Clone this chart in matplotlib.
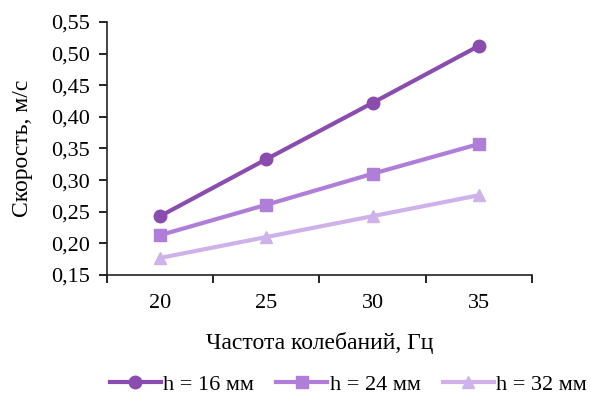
import numpy as np
import matplotlib.pyplot as plt
from matplotlib.ticker import FuncFormatter

plt.rcParams['font.family'] = ['Liberation Serif', 'DejaVu Serif']

freq = [20, 25, 30, 35]
v_h16 = [0.243, 0.333, 0.422, 0.512]
v_h24 = [0.213, 0.261, 0.310, 0.357]
v_h32 = [0.177, 0.210, 0.243, 0.276]
labels = ['h = 16 мм', 'h = 24 мм', 'h = 32 мм']
colors = ['#8A4CAE', '#AE7ED8', '#CFB2EA']
markers = ['o', 's', '^']

fig = plt.figure(figsize=(5.91, 3.98), dpi=100)
ax = fig.add_axes([0.181, 0.309, 0.719, 0.636])

x = np.arange(len(freq))
for vals, lab, c, m in zip([v_h16, v_h24, v_h32], labels, colors, markers):
    ax.plot(x, vals, color=c, marker=m, markersize=9, linewidth=3, label=lab)

ax.set_xlim(-0.5, len(freq) - 0.5)
ax.set_ylim(0.15, 0.55)
ax.set_yticks(np.arange(0.15, 0.551, 0.05))
ax.yaxis.set_major_formatter(FuncFormatter(lambda v, p: f'{v:.2f}'.replace('.', ',')))

# category boundaries carry the tick marks, labels sit at the centres
ax.set_xticks(np.arange(-0.5, len(freq), 1.0))
ax.set_xticklabels([])
ax.set_xticks(x, minor=True)
ax.set_xticklabels([str(f) for f in freq], minor=True)
ax.tick_params(axis='x', which='minor', length=0, pad=14, labelsize=16)
ax.tick_params(axis='x', which='major', length=6, width=1.2)
ax.tick_params(axis='y', length=6, width=1.2, labelsize=16, pad=6)

for s in ['top', 'right']:
    ax.spines[s].set_visible(False)
for s in ['left', 'bottom']:
    ax.spines[s].set_linewidth(1.2)
    ax.spines[s].set_color('#222222')

ax.set_ylabel('Скорость, м/с', fontsize=17, labelpad=13)
ax.set_xlabel('Частота колебаний, Гц', fontsize=17, labelpad=13)

fig.legend(loc='center left', bbox_to_anchor=(0.186, 0.033), ncol=3, frameon=False,
           fontsize=16, handlelength=2.3, columnspacing=1.0, handletextpad=0.1,
           borderpad=0, borderaxespad=0)

fig.savefig('out.png', dpi=100)
